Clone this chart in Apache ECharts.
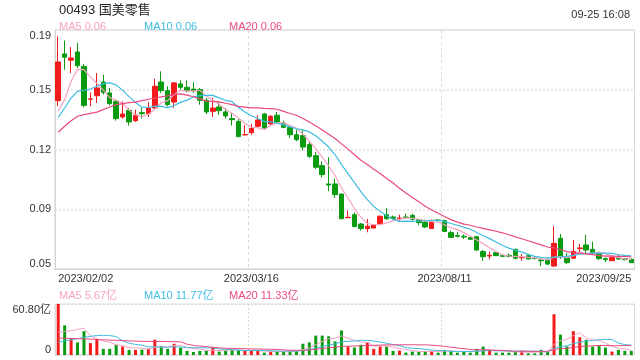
<!DOCTYPE html>
<html><head><meta charset="utf-8">
<script src="https://cdn.jsdelivr.net/npm/echarts@6/dist/echarts.min.js"></script>
<style>html,body{margin:0;padding:0;background:#fff}#c{width:640px;height:360px}</style>
</head><body><div id="c"></div>
<script>
const dates = ["2023/02/02","2023/02/03","2023/02/06","2023/02/07","2023/02/08","2023/02/09","2023/02/10","2023/02/13","2023/02/14","2023/02/15","2023/02/16","2023/02/17","2023/02/20","2023/02/21","2023/02/22","2023/02/23","2023/02/24","2023/02/27","2023/02/28","2023/03/01","2023/03/02","2023/03/03","2023/03/06","2023/03/07","2023/03/08","2023/03/09","2023/03/10","2023/03/13","2023/03/14","2023/03/15","2023/03/16",
"2023/03/17","2023/03/20","2023/03/21","2023/03/22","2023/03/23","2023/03/24","2023/03/27","2023/03/28","2023/03/29","2023/03/30","2023/03/31","2023/04/03","2023/04/04","2023/04/06","2023/04/11","2023/04/12","2023/04/13","2023/04/14","2023/04/17","2023/04/18","2023/04/19","2023/04/20","2023/04/21","2023/04/24","2023/04/25","2023/04/26","2023/04/27","2023/04/28","2023/05/02",
"2023/08/11","2023/08/14","2023/08/15","2023/08/16","2023/08/17","2023/08/18","2023/08/21","2023/08/22","2023/08/23","2023/08/24","2023/08/25","2023/08/28","2023/08/29","2023/08/30","2023/08/31","2023/09/04","2023/09/05","2023/09/06","2023/09/07","2023/09/11","2023/09/12","2023/09/13","2023/09/14","2023/09/15","2023/09/18","2023/09/19","2023/09/20","2023/09/21","2023/09/22","2023/09/25"];
const labelIndex = [0, 30, 60, 89];

const openP = [0.1478,0.1744,0.1708,0.1755,0.1673,0.1486,0.1506,0.1584,0.1522,0.1474,
0.1385,0.1423,0.1364,0.1410,0.1404,0.1436,0.1584,0.1535,0.1470,0.1573,
0.1554,0.1544,0.1541,0.1480,0.1417,0.1442,0.1414,0.1376,0.1360,0.1283,
0.1296,0.1332,0.1402,0.1345,0.1395,0.1351,0.1326,0.1284,0.1279,0.1228,
0.1165,0.1108,0.1004,0.1004,0.0947,0.0812,0.0829,0.0776,0.0750,0.0753,
0.0776,0.0829,0.0816,0.0806,0.0816,0.0825,0.0801,0.0786,0.0750,0.0799,
0.0795,0.0727,0.0710,0.0706,0.0700,0.0704,0.0619,0.0594,0.0613,0.0596,
0.0598,0.0632,0.0584,0.0596,0.0583,0.0571,0.0571,0.0537,0.0695,0.0586,
0.0581,0.0636,0.0657,0.0632,0.0609,0.0579,0.0567,0.0583,0.0579,0.0575];
const closeP = [0.1698,0.1725,0.1721,0.1677,0.1451,0.1488,0.1550,0.1525,0.1461,0.1376,
0.1402,0.1357,0.1395,0.1404,0.1436,0.1560,0.1535,0.1455,0.1579,0.1554,
0.1535,0.1535,0.1480,0.1414,0.1436,0.1421,0.1391,0.1370,0.1273,0.1285,
0.1319,0.1368,0.1322,0.1389,0.1357,0.1326,0.1284,0.1256,0.1214,0.1161,
0.1099,0.1057,0.0998,0.0943,0.0806,0.0814,0.0761,0.0750,0.0763,0.0772,
0.0820,0.0806,0.0808,0.0810,0.0812,0.0803,0.0784,0.0759,0.0787,0.0795,
0.0734,0.0700,0.0706,0.0702,0.0689,0.0628,0.0590,0.0598,0.0596,0.0592,
0.0592,0.0581,0.0588,0.0577,0.0579,0.0567,0.0548,0.0666,0.0590,0.0556,
0.0619,0.0640,0.0628,0.0609,0.0579,0.0573,0.0586,0.0577,0.0573,0.0556];
const lowP = [0.1446,0.1654,0.1635,0.1664,0.1440,0.1446,0.1465,0.1512,0.1451,0.1364,
0.1376,0.1336,0.1357,0.1376,0.1385,0.1427,0.1522,0.1446,0.1436,0.1541,
0.1525,0.1522,0.1455,0.1402,0.1385,0.1398,0.1376,0.1336,0.1271,0.1282,
0.1284,0.1326,0.1319,0.1341,0.1345,0.1322,0.1266,0.1247,0.1195,0.1152,
0.1089,0.1042,0.0962,0.0924,0.0804,0.0810,0.0759,0.0738,0.0729,0.0753,
0.0772,0.0801,0.0799,0.0795,0.0806,0.0795,0.0769,0.0753,0.0748,0.0790,
0.0730,0.0698,0.0700,0.0691,0.0687,0.0624,0.0567,0.0575,0.0594,0.0588,
0.0586,0.0575,0.0567,0.0575,0.0575,0.0537,0.0543,0.0533,0.0577,0.0548,
0.0577,0.0609,0.0609,0.0600,0.0571,0.0560,0.0567,0.0571,0.0569,0.0554];
const highP = [0.1844,0.1821,0.1783,0.1806,0.1687,0.1525,0.1635,0.1626,0.1550,0.1484,
0.1474,0.1436,0.1427,0.1436,0.1470,0.1603,0.1645,0.1560,0.1584,0.1594,
0.1594,0.1584,0.1550,0.1493,0.1493,0.1474,0.1436,0.1408,0.1379,0.1338,
0.1345,0.1395,0.1408,0.1395,0.1414,0.1364,0.1341,0.1313,0.1313,0.1247,
0.1186,0.1133,0.1156,0.1034,0.0947,0.0852,0.0842,0.0782,0.0805,0.0776,
0.0825,0.0867,0.0824,0.0829,0.0835,0.0835,0.0803,0.0801,0.0801,0.0805,
0.0801,0.0738,0.0732,0.0717,0.0704,0.0708,0.0628,0.0619,0.0617,0.0602,
0.0609,0.0636,0.0605,0.0600,0.0586,0.0581,0.0581,0.0765,0.0719,0.0609,
0.0685,0.0662,0.0714,0.0676,0.0619,0.0586,0.0588,0.0600,0.0584,0.0581];

const ma5 = [0.1419,0.1484,0.1588,0.1656,0.1654,0.1612,0.1577,0.1538,0.1495,0.1480,
0.1463,0.1424,0.1398,0.1387,0.1399,0.1430,0.1466,0.1478,0.1513,0.1537,
0.1532,0.1532,0.1537,0.1504,0.1480,0.1457,0.1428,0.1406,0.1378,0.1348,
0.1328,0.1323,0.1313,0.1337,0.1351,0.1352,0.1336,0.1322,0.1287,0.1248,
0.1203,0.1157,0.1106,0.1052,0.0981,0.0924,0.0864,0.0815,0.0779,0.0772,
0.0773,0.0782,0.0794,0.0803,0.0811,0.0808,0.0803,0.0794,0.0789,0.0786,
0.0772,0.0755,0.0744,0.0727,0.0706,0.0685,0.0663,0.0641,0.0620,0.0601,
0.0594,0.0592,0.0590,0.0586,0.0583,0.0578,0.0572,0.0587,0.0590,0.0585,
0.0596,0.0614,0.0607,0.0610,0.0615,0.0606,0.0595,0.0585,0.0578,0.0573];
const ma10 = [0.1383,0.1436,0.1493,0.1531,0.1537,0.1544,0.1560,0.1575,0.1579,0.1567,
0.1538,0.1501,0.1468,0.1441,0.1439,0.1447,0.1445,0.1438,0.1450,0.1468,
0.1481,0.1499,0.1507,0.1508,0.1508,0.1494,0.1480,0.1472,0.1441,0.1414,
0.1392,0.1376,0.1360,0.1357,0.1350,0.1340,0.1329,0.1318,0.1312,0.1300,
0.1278,0.1247,0.1214,0.1170,0.1114,0.1063,0.1011,0.0960,0.0915,0.0876,
0.0848,0.0823,0.0804,0.0791,0.0792,0.0791,0.0793,0.0794,0.0796,0.0798,
0.0790,0.0779,0.0769,0.0758,0.0746,0.0728,0.0709,0.0693,0.0674,0.0654,
0.0639,0.0627,0.0616,0.0603,0.0592,0.0586,0.0582,0.0588,0.0589,0.0592,
0.0598,0.0604,0.0608,0.0611,0.0610,0.0610,0.0609,0.0601,0.0597,0.0595];
const ma20 = [0.1298,0.1332,0.1364,0.1389,0.1398,0.1406,0.1413,0.1427,0.1442,0.1455,
0.1461,0.1467,0.1470,0.1478,0.1486,0.1493,0.1499,0.1505,0.1512,0.1517,
0.1509,0.1500,0.1488,0.1475,0.1474,0.1471,0.1463,0.1455,0.1445,0.1441,
0.1437,0.1437,0.1434,0.1433,0.1429,0.1417,0.1405,0.1395,0.1376,0.1357,
0.1335,0.1311,0.1287,0.1263,0.1232,0.1202,0.1170,0.1139,0.1114,0.1088,
0.1063,0.1035,0.1009,0.0980,0.0953,0.0927,0.0902,0.0877,0.0856,0.0837,
0.0819,0.0801,0.0787,0.0775,0.0769,0.0759,0.0751,0.0743,0.0735,0.0726,
0.0715,0.0703,0.0692,0.0681,0.0669,0.0657,0.0645,0.0641,0.0631,0.0619,
0.0613,0.0610,0.0606,0.0602,0.0596,0.0593,0.0593,0.0592,0.0591,0.0589];

const volume = [60.8,35.3,20.3,15.0,28.4,14.2,19.0,7.3,7.3,12.2,
10.1,6.1,6.1,6.5,7.3,18.2,10.9,7.3,13.4,8.9,
4.9,3.6,4.9,5.3,8.9,4.1,5.3,6.1,6.1,4.9,
4.9,4.9,2.8,4.1,4.1,4.1,4.9,5.3,13.4,15.0,
23.1,23.1,22.3,16.2,29.2,10.1,8.9,12.2,15.0,7.3,
10.1,10.1,4.9,5.3,2.8,4.1,4.1,4.9,4.9,2.8,
6.1,4.9,2.8,4.1,2.8,7.3,10.1,6.1,2.8,2.8,
2.8,4.1,4.9,2.0,2.0,6.1,4.1,48.6,24.3,10.1,
28.4,21.1,18.2,10.1,11.3,8.9,4.1,6.1,4.9,4.9];
const volMa5 = [27,28,29,30.5,32.0,22.6,19.4,16.8,15.2,12.0,
11.2,8.6,8.4,8.2,7.2,8.8,9.8,10.0,11.4,11.7,
9.1,7.6,7.1,5.5,5.5,5.4,5.7,5.9,6.1,5.3,
5.5,5.4,4.7,4.3,4.2,4.0,4.0,4.5,6.4,8.5,
12.3,16.0,19.4,19.9,22.8,20.2,17.3,15.3,15.1,10.7,
10.7,10.9,9.5,7.5,6.6,5.4,4.2,4.2,4.2,4.2,
4.6,4.7,4.3,4.1,4.1,4.4,5.4,6.1,5.8,5.8,
4.9,3.7,3.5,3.3,3.2,3.8,3.8,12.6,17.0,18.6,
23.1,26.5,20.4,17.6,17.8,13.9,10.5,8.1,7.1,5.67];
const volMa10 = [15.0,17.0,18.2,19.4,21.1,22.3,23.1,23.5,23.1,22.0,
16.9,14.0,12.6,11.7,9.6,10.0,9.2,9.2,9.8,9.5,
9.0,8.7,8.6,8.5,8.6,7.2,6.7,6.5,5.8,5.4,
5.4,5.5,5.3,5.2,4.7,4.7,4.7,4.6,5.3,6.4,
8.2,10.0,11.9,13.2,15.7,16.3,16.7,17.4,17.5,16.7,
15.4,14.1,12.4,11.3,8.7,8.1,7.6,6.9,5.9,5.4,
5.0,4.5,4.3,4.2,4.2,4.5,5.1,5.2,5.0,5.0,
4.7,4.6,4.8,4.6,4.5,4.4,3.8,8.0,10.2,10.9,
13.5,15.2,16.5,17.3,18.2,18.5,18.5,14.3,12.3,11.77];
const volMa20 = [20.3,20.0,19.8,19.5,19.2,19.0,18.5,18.0,17.8,17.5,
17.2,16.8,16.5,16.3,16.2,16.2,16.2,16.0,15.9,15.7,
12.9,11.4,10.6,10.1,9.1,8.6,7.9,7.9,7.8,7.4,
7.2,7.1,7.0,6.8,6.7,6.0,5.7,5.6,5.6,5.9,
6.8,7.8,8.6,9.2,10.2,10.5,10.7,11.0,11.4,11.5,
11.8,12.1,12.2,12.2,12.2,12.2,12.1,12.1,11.7,11.1,
10.2,9.3,8.3,7.7,6.4,6.3,6.3,6.0,5.4,5.2,
4.8,4.5,4.5,4.4,4.3,4.4,4.4,6.6,7.6,7.9,
9.1,9.9,10.6,10.9,11.4,11.4,11.1,11.1,11.2,11.33];

const priceTicks = [0.052, 0.086, 0.120, 0.154, 0.188];
const volTicks = [0, 60.8];
const stockTitle = '00493 国美零售';
const timeText = '09-25 16:08';

const UP = '#f21a1a', DOWN = '#0a9b10';
const C5 = '#f7a3c2', C10 = '#3ebde0', C20 = '#eb4a80';
const FONT = '"Liberation Sans", Arial, "Noto Sans CJK SC", sans-serif';

const candleData = openP.map((o, i) => [o, closeP[i], lowP[i], highP[i]]);
const volData = volume.map((v, i) => ({
  value: v,
  itemStyle: { color: closeP[i] >= openP[i] ? UP : DOWN }
}));

const last = a => a[a.length - 1];
const txt = (text, left, top, color, size) => ({
  text, left, top,
  textStyle: { color, fontSize: size || 11, fontWeight: 'normal', fontFamily: FONT }
});

const chart = echarts.init(document.getElementById('c'), null, { renderer: 'canvas' });
chart.setOption({
  animation: false,
  backgroundColor: '#fff',
  title: [
    txt(stockTitle, 54, -1, '#222', 13),
    { text: timeText, right: 5, top: 4, textStyle: { color: '#333', fontSize: 11, fontWeight: 'normal', fontFamily: FONT } },
    txt('MA5 ' + last(ma5).toFixed(2), 54, 16, C5),
    txt('MA10 ' + last(ma10).toFixed(2), 139, 16, C10),
    txt('MA20 ' + last(ma20).toFixed(2), 224, 16, C20),
    txt('MA5 ' + last(volMa5).toFixed(2) + '亿', 54, 285, C5),
    txt('MA10 ' + last(volMa10).toFixed(2) + '亿', 139, 285, C10),
    txt('MA20 ' + last(volMa20).toFixed(2) + '亿', 224, 285, C20)
  ],
  grid: [
    { left: 55, right: 5.5, top: 30, height: 239, show: true, borderColor: '#d4d4d4', borderWidth: 1 },
    { left: 55, right: 5.5, top: 304, height: 51, show: true, borderColor: '#dcdcdc', borderWidth: 1 }
  ],
  xAxis: [
    {
      type: 'category', gridIndex: 0, data: dates, boundaryGap: true,
      axisLine: { show: true, lineStyle: { color: '#d4d4d4' } },
      axisTick: { show: false },
      axisLabel: {
        interval: (i) => labelIndex.includes(i),
        color: '#333', fontSize: 11, fontFamily: FONT, margin: 4,
        alignMinLabel: 'left', alignMaxLabel: 'right'
      },
      splitLine: {
        show: true,
        interval: (i) => i === labelIndex[1] || i === labelIndex[2],
        lineStyle: { color: '#d8d8d8', type: [3, 3], width: 1 }
      }
    },
    {
      type: 'category', gridIndex: 1, data: dates, boundaryGap: true,
      axisLine: { show: false }, axisTick: { show: false }, axisLabel: { show: false },
      splitLine: {
        show: true,
        interval: (i) => i === labelIndex[1] || i === labelIndex[2],
        lineStyle: { color: '#d8d8d8', type: [2, 2], width: 1 }
      }
    }
  ],
  yAxis: [
    {
      type: 'value', gridIndex: 0, min: priceTicks[0], max: priceTicks[priceTicks.length - 1],
      axisLine: { show: true, lineStyle: { color: '#d4d4d4' } },
      axisTick: { show: false, customValues: priceTicks },
      axisLabel: {
        customValues: priceTicks,
        formatter: v => v.toFixed(2),
        color: '#333', fontSize: 11, fontFamily: FONT, margin: 4,
        verticalAlignMinLabel: 'bottom', verticalAlignMaxLabel: 'top'
      },
      splitLine: { show: true, lineStyle: { color: '#e0e0e0', type: [2, 2], width: 1.5 } }
    },
    {
      type: 'value', gridIndex: 1, min: volTicks[0], max: volTicks[1],
      axisLine: { show: true, lineStyle: { color: '#dcdcdc' } },
      axisTick: { show: false, customValues: volTicks },
      axisLabel: {
        customValues: volTicks,
        formatter: v => v === 0 ? '0' : v.toFixed(2) + '亿',
        color: '#333', fontSize: 11, fontFamily: FONT, margin: 4,
        verticalAlignMinLabel: 'bottom', verticalAlignMaxLabel: 'top'
      },
      splitLine: { show: true, lineStyle: { color: '#d8d8d8', type: [2, 2], width: 1 } }
    }
  ],
  series: [
    {
      type: 'candlestick', xAxisIndex: 0, yAxisIndex: 0, data: candleData, barWidth: 5,
      itemStyle: { color: UP, color0: DOWN, borderColor: UP, borderColor0: DOWN, borderWidth: 1 }
    },
    { type: 'line', name: 'MA5', xAxisIndex: 0, yAxisIndex: 0, data: ma5, showSymbol: false, z: 5, lineStyle: { color: C5, width: 1.2 }, itemStyle: { color: C5 } },
    { type: 'line', name: 'MA10', xAxisIndex: 0, yAxisIndex: 0, data: ma10, showSymbol: false, z: 5, lineStyle: { color: C10, width: 1.2 }, itemStyle: { color: C10 } },
    { type: 'line', name: 'MA20', xAxisIndex: 0, yAxisIndex: 0, data: ma20, showSymbol: false, z: 5, lineStyle: { color: C20, width: 1.2 }, itemStyle: { color: C20 } },
    { type: 'bar', xAxisIndex: 1, yAxisIndex: 1, data: volData, barWidth: 3 },
    { type: 'line', xAxisIndex: 1, yAxisIndex: 1, data: volMa5, showSymbol: false, z: 5, lineStyle: { color: C5, width: 1 } },
    { type: 'line', xAxisIndex: 1, yAxisIndex: 1, data: volMa10, showSymbol: false, z: 5, lineStyle: { color: C10, width: 1 } },
    { type: 'line', xAxisIndex: 1, yAxisIndex: 1, data: volMa20, showSymbol: false, z: 5, lineStyle: { color: C20, width: 1 } }
  ]
});
</script></body></html>
